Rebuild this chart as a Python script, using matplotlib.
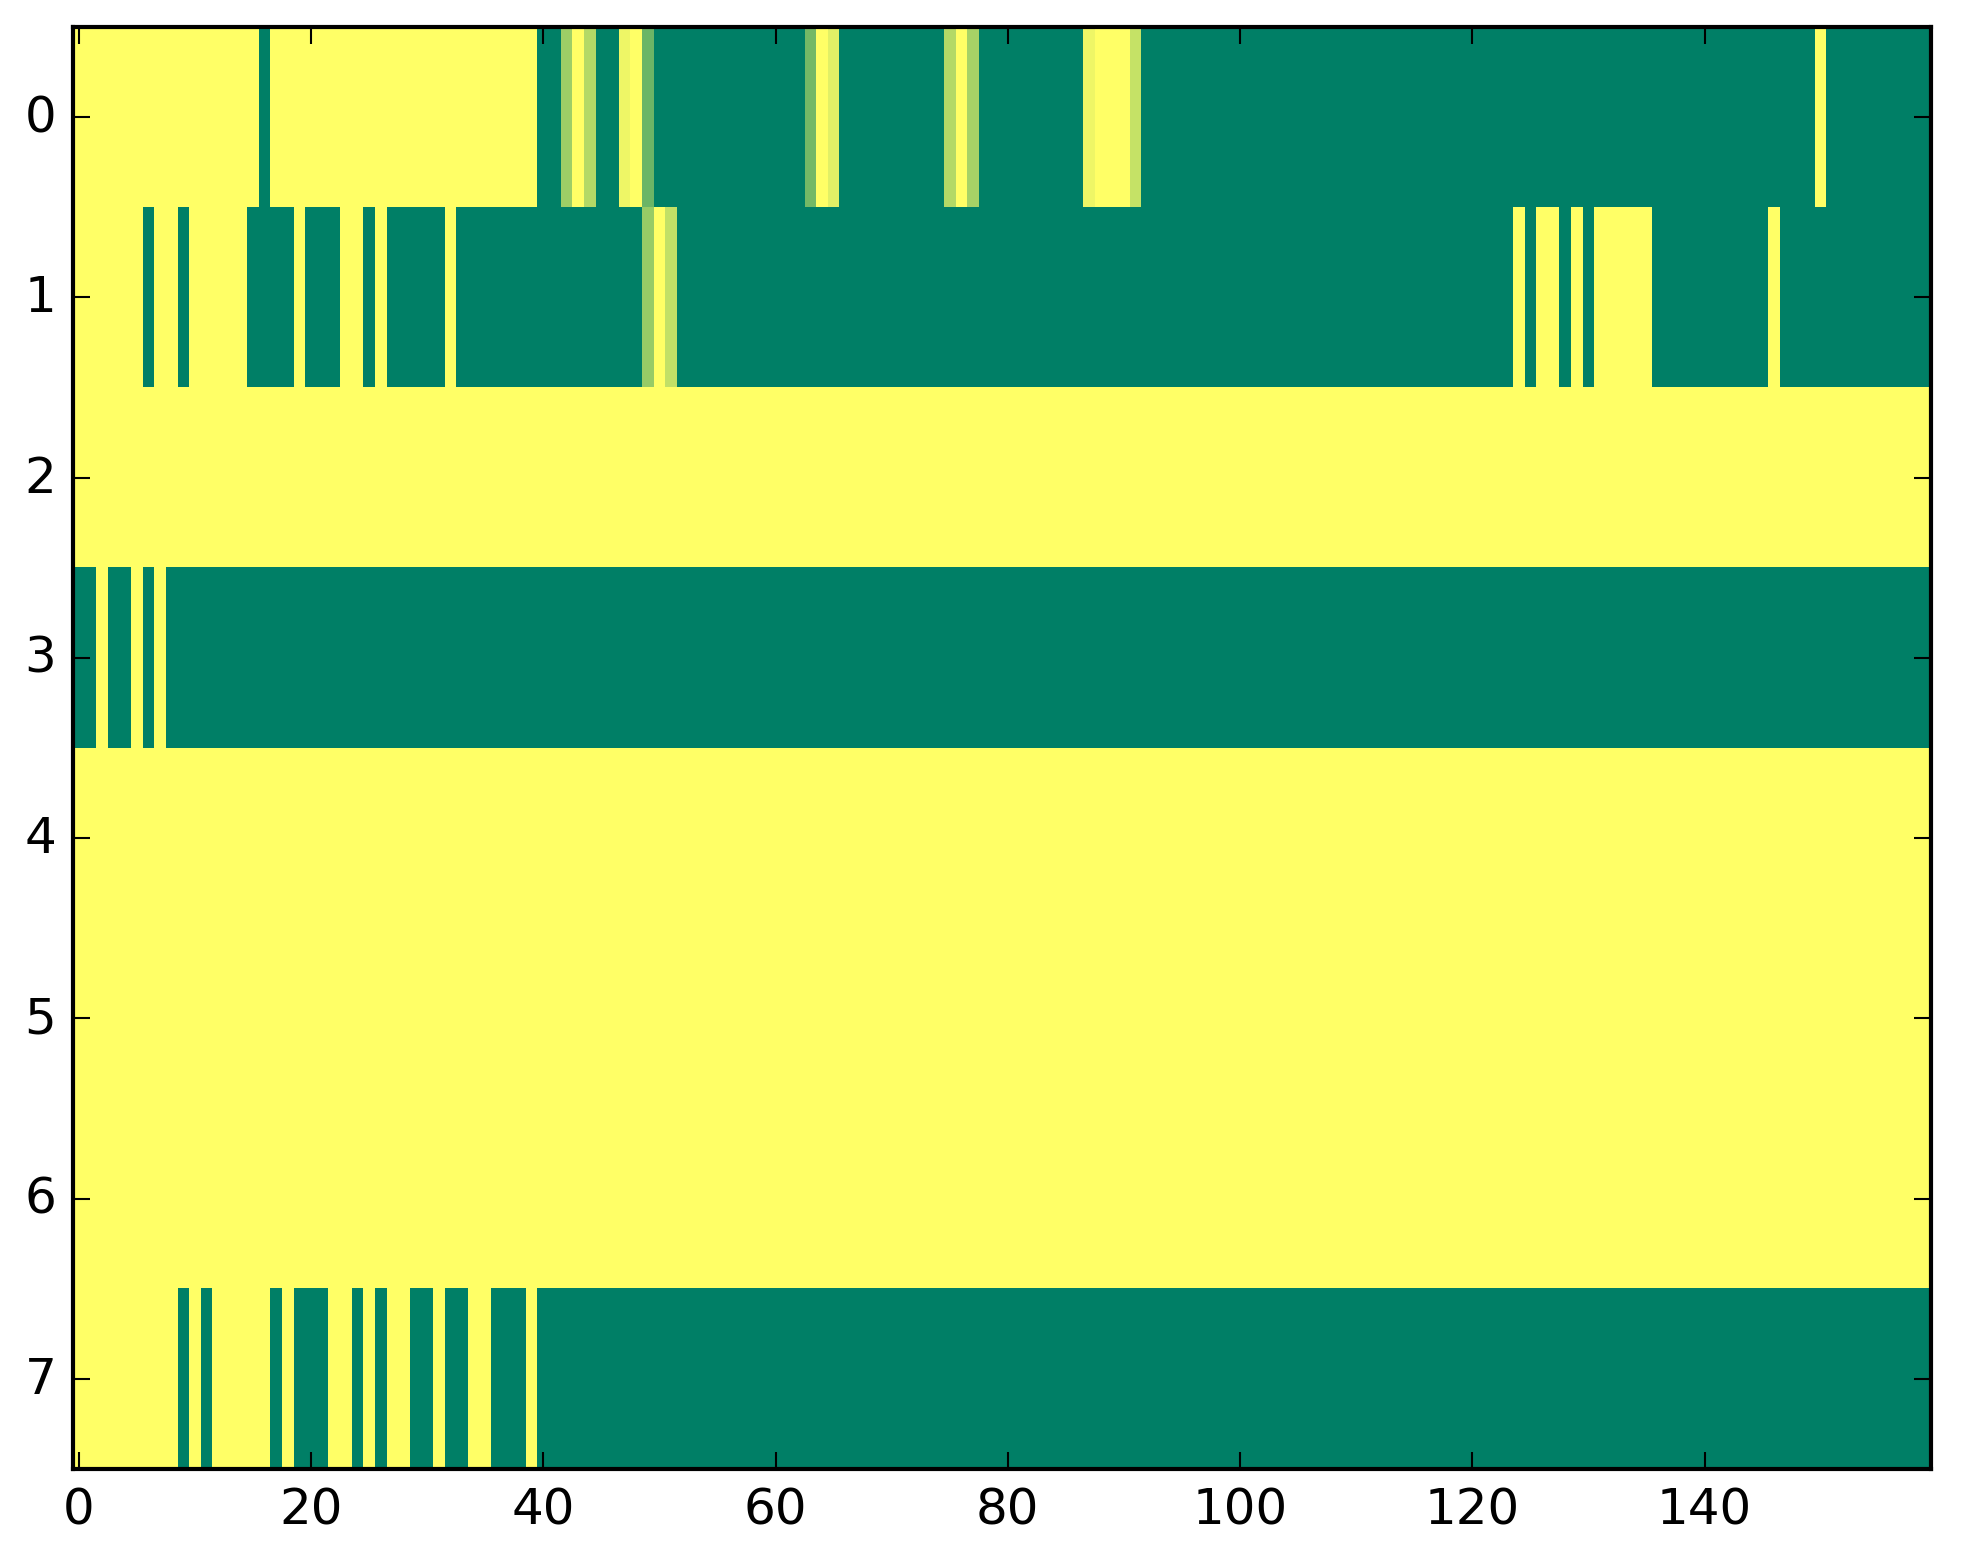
import numpy as np
import matplotlib
matplotlib.use("Agg")
import matplotlib.pyplot as plt

# each row as (value, run length) read left to right, 160 columns per row
row0 = [(1, 16), (0, 1), (1, 23), (0, 2), (0.62, 1), (1, 1), (0.70, 1), (0, 2),
        (0.93, 1), (1, 1), (0.42, 1), (0, 13), (0.45, 1), (1, 1), (0.88, 1), (0, 9),
        (0.70, 1), (1, 1), (0.65, 1), (0, 9), (0.93, 1), (1, 3), (0.77, 1), (0, 58),
        (1, 1), (0, 9)]
row1 = [(1, 6), (0, 1), (1, 2), (0, 1), (1, 5), (0, 4), (1, 1), (0, 3), (1, 2), (0, 1),
        (1, 1), (0, 5), (1, 1), (0, 16), (0.59, 1), (1, 1), (0.76, 1), (0, 72), (1, 1),
        (0, 1), (1, 2), (0, 1), (1, 1), (0, 1), (1, 5), (0, 10), (1, 1), (0, 13)]
row2 = [(1, 160)]
row3 = [(0, 2), (1, 1), (0, 2), (1, 1), (0, 1), (1, 1), (0, 152)]
row4 = [(1, 160)]
row5 = [(1, 160)]
row6 = [(1, 160)]
row7 = [(1, 9), (0, 1), (1, 1), (0, 1), (1, 5), (0, 1), (1, 1), (0, 3), (1, 2), (0, 1),
        (1, 1), (0, 1), (1, 2), (0, 2), (1, 1), (0, 2), (1, 2), (0, 3), (1, 1), (0, 120)]

rows = [row0, row1, row2, row3, row4, row5, row6, row7]
data = np.array([[v for v, n in r for _ in range(n)] for r in rows])

plt.style.use('classic')
dpi = 300
fig = plt.figure(figsize=(1963 / dpi, 1564 / dpi), dpi=dpi, facecolor='white')
ax = fig.add_axes([73 / 1963, 1 - 1470 / 1564, (1931 - 73) / 1963, (1470 - 28) / 1564])

ax.imshow(data, cmap='summer', vmin=0, vmax=1, aspect='auto', interpolation='nearest')
ax.set_xticks(np.arange(0, 160, 20))
ax.set_yticks(np.arange(0, 8))

fig.savefig('out.png', dpi=dpi, facecolor='white')
